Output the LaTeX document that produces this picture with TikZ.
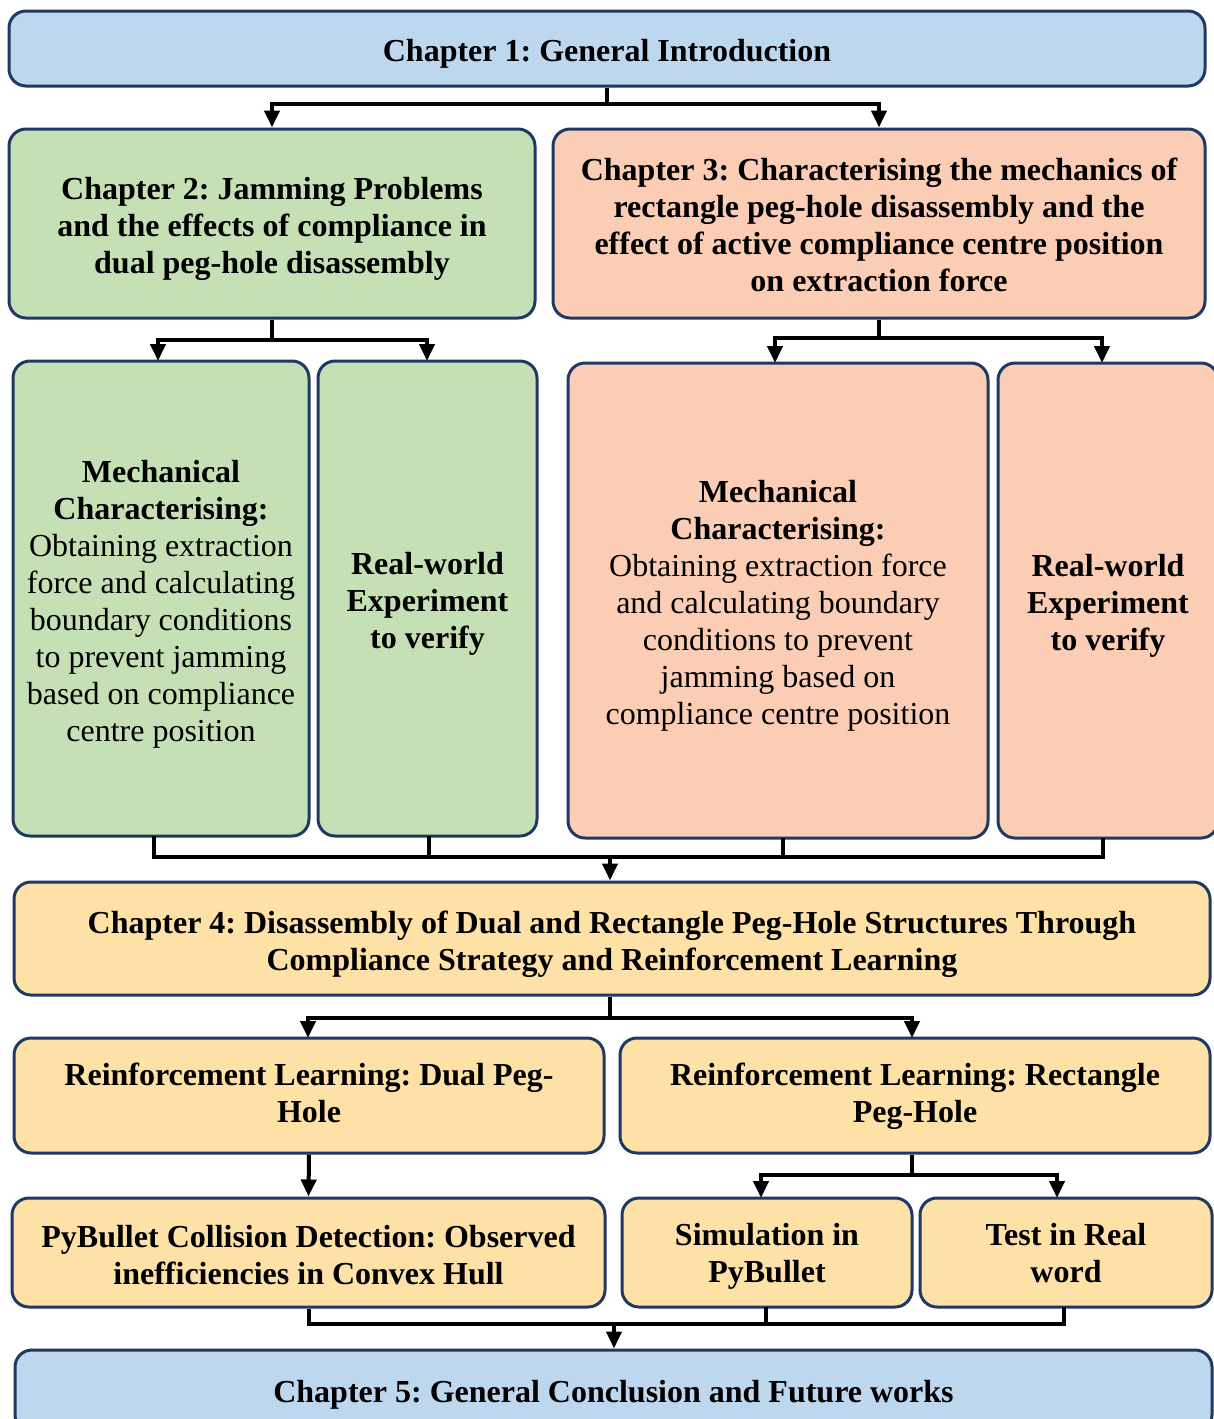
\documentclass[tikz,border=0pt]{standalone}
\usepackage{fontspec}
\setmainfont{Liberation Serif}
\usetikzlibrary{arrows.meta}
\definecolor{cblue}{HTML}{BDD7EE}
\definecolor{cgreen}{HTML}{C5E0B4}
\definecolor{csalmon}{HTML}{FBCDB4}
\definecolor{cyellow}{HTML}{FDE1A7}
\definecolor{cborder}{HTML}{1F3864}
\tikzset{
  box/.style={draw=cborder, line width=3pt, rounded corners=17pt, inner sep=0pt},
  boxtext/.style={inner sep=0pt, align=center, font=\fontsize{32}{37}\selectfont\bfseries},
  conn/.style={draw=black, line width=4pt},
  arr/.style={conn, -{Triangle[width=15pt,length=17pt]}}
}
\newcommand{\boxat}[8]{% name, fill, x1, y1, x2, y2, text shift (down), text
  \node[box, fill=#2, minimum width={#5-#3}, minimum height={#6-#4}] (#1) at ({(#3+#5)/2},{(#4+#6)/2}) {};
  \node[boxtext] (#1t) at ([yshift=-#7pt]#1.center) {\strut#8\strut};}
\begin{document}
\begin{tikzpicture}[x=1pt,y=-1pt]
\frenchspacing
\clip (0,0) rectangle (1214,1419);
\fill[white] (0,0) rectangle (1214,1419);
\boxat{ch1}{cblue}{9}{11}{1205}{86}{5.5}{Chapter 1: General Introduction}
\boxat{ch2}{cgreen}{9}{129}{535}{318}{5.5}{Chapter 2: Jamming Problems\\and the effects of compliance in\\dual peg-hole disassembly}
\boxat{ch3}{csalmon}{553}{129}{1205}{318}{5.5}{Chapter 3: Characterising the mechanics of\\rectangle peg-hole disassembly and the\\effect of active compliance centre position\\on extraction force}
\boxat{mechL}{cgreen}{13}{361}{309}{836}{6}{Mechanical\\Characterising:\\{\mdseries Obtaining extraction}\\{\mdseries force and calculating}\\{\mdseries boundary conditions}\\{\mdseries to prevent jamming}\\{\mdseries based on compliance}\\{\mdseries centre position}}
\boxat{rwL}{cgreen}{318}{361}{537}{836}{6}{Real-world\\Experiment\\to verify}
\boxat{mechR}{csalmon}{568}{363}{988}{838}{6}{Mechanical\\Characterising:\\{\mdseries Obtaining extraction force}\\{\mdseries and calculating boundary}\\{\mdseries conditions to prevent}\\{\mdseries jamming based on}\\{\mdseries compliance centre position}}
\boxat{rwR}{csalmon}{998}{363}{1218}{838}{5.5}{Real-world\\Experiment\\to verify}
\boxat{ch4}{cyellow}{14}{882}{1210}{995}{6}{Chapter 4: Disassembly of Dual and Rectangle Peg-Hole Structures Through\\Compliance Strategy and Reinforcement Learning}
\boxat{rlD}{cyellow}{14}{1038}{604}{1153}{1}{Reinforcement Learning: Dual Peg-\\Hole}
\boxat{rlR}{cyellow}{620}{1038}{1210}{1153}{1}{Reinforcement Learning: Rectangle\\Peg-Hole}
\boxat{pyb}{cyellow}{12}{1198}{605}{1307}{6}{PyBullet Collision Detection: Observed\\inefficiencies in Convex Hull}
\boxat{sim}{cyellow}{622}{1198}{912}{1307}{4}{Simulation in\\PyBullet}
\boxat{test}{cyellow}{920}{1198}{1212}{1307}{4}{Test in Real\\word}
\boxat{ch5}{cblue}{15}{1350}{1212}{1432}{4}{Chapter 5: General Conclusion and Future works}
% connectors
\coordinate (j1) at (607,104);
\draw[conn] (ch1.south) -- (j1);
\draw[arr] (j1) -| (ch2.north);
\draw[arr] (j1) -| (ch3.north);
\coordinate (j2) at (272,340);
\draw[conn] (ch2.south) -- (j2);
\draw[arr] (j2) -| (158,361);
\draw[arr] (j2) -| (427,361);
\coordinate (j3) at (879,338);
\draw[conn] (ch3.south) -- (j3);
\draw[arr] (j3) -| (775,363);
\draw[arr] (j3) -| (1102,363);
\coordinate (j4) at (610,857);
\draw[conn] (154,836) |- (j4);
\draw[conn] (429,836) |- (j4);
\draw[conn] (783,838) |- (j4);
\draw[conn] (1103,838) |- (j4);
\draw[arr] (j4) -- (ch4.north -| j4);
\coordinate (j5) at (610,1018);
\draw[conn] (ch4.south -| j5) -- (j5);
\draw[arr] (j5) -| (308,1038);
\draw[arr] (j5) -| (912,1038);
\draw[arr] (rlD.south) -- (pyb.north);
\coordinate (j6) at (912,1175);
\draw[conn] (rlR.south -| j6) -- (j6);
\draw[arr] (j6) -| (761,1198);
\draw[arr] (j6) -| (1057,1198);
\coordinate (j7) at (614,1324);
\draw[conn] (pyb.south) |- (j7);
\draw[conn] (766,1307) |- (j7);
\draw[conn] (1064,1307) |- (j7);
\draw[arr] (j7) -- (ch5.north -| j7);
\end{tikzpicture}
\end{document}
